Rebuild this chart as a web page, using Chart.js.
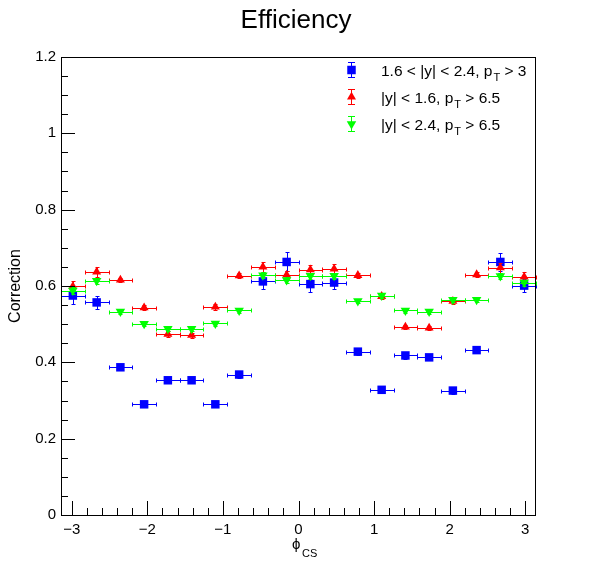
<!DOCTYPE html>
<html>
<head>
<meta charset="utf-8">
<title>Efficiency</title>
<script src="https://cdn.jsdelivr.net/npm/chart.js@4.4.1/dist/chart.umd.min.js"></script>
<style>
  body { margin: 0; background: #fff; }
  canvas { display: block; }
</style>
</head>
<body>
<canvas id="myChart" width="596" height="572"></canvas>
<script>
// centros de los bins en phi_CS (20 bins entre -pi y pi)
const phiBins = [-2.985, -2.670, -2.356, -2.042, -1.728, -1.414, -1.100, -0.785, -0.471, -0.157,
                  0.157, 0.471, 0.785, 1.100, 1.414, 1.728, 2.042, 2.356, 2.670, 2.985];
const binHalfWidth = 0.157;

// 1.6 < |y| < 2.4, pT > 3
const blueVals = [0.575, 0.557, 0.387, 0.290, 0.353, 0.353, 0.290, 0.368, 0.612, 0.663,
                  0.605, 0.609, 0.428, 0.328, 0.418, 0.413, 0.326, 0.432, 0.663, 0.601];
const blueErr = [0.022, 0.018, 0.008, 0.008, 0.008, 0.008, 0.008, 0.008, 0.019, 0.025,
                 0.022, 0.016, 0.008, 0.008, 0.008, 0.008, 0.008, 0.008, 0.023, 0.018];

// |y| < 1.6, pT > 6.5
const redVals = [0.599, 0.637, 0.616, 0.543, 0.474, 0.471, 0.545, 0.627, 0.650, 0.629,
                 0.643, 0.645, 0.628, 0.573, 0.493, 0.490, 0.560, 0.630, 0.648, 0.624];
const redErr = [0.013, 0.013, 0.006, 0.007, 0.007, 0.007, 0.007, 0.006, 0.013, 0.011,
                0.013, 0.013, 0.006, 0.006, 0.006, 0.006, 0.007, 0.006, 0.013, 0.013];

// |y| < 2.4, pT > 6.5
const greenVals = [0.588, 0.614, 0.533, 0.501, 0.488, 0.488, 0.502, 0.536, 0.628, 0.616,
                   0.627, 0.627, 0.561, 0.575, 0.536, 0.533, 0.564, 0.564, 0.626, 0.609];
const greenErr = [0.010, 0.008, 0.006, 0.006, 0.006, 0.006, 0.006, 0.006, 0.008, 0.008,
                  0.008, 0.008, 0.006, 0.006, 0.006, 0.006, 0.006, 0.006, 0.008, 0.008];

const xTicks = [-3, -2, -1, 0, 1, 2, 3];
const yTicks = [0, 0.2, 0.4, 0.6, 0.8, 1, 1.2];

// texto de la leyenda: [antes, subindice, despues]
const legendLabels = [
    ['1.6 < |y| < 2.4, p', 'T', ' > 3'],
    ['|y| < 1.6, p', 'T', ' > 6.5'],
    ['|y| < 2.4, p', 'T', ' > 6.5']
];

const FONT = '"Liberation Sans", Arial, Helvetica, "DejaVu Sans", sans-serif';

function toPoints(vals, errs) {
    return phiBins.map((x, i) => ({ x: x, y: vals[i], err: errs[i] }));
}

function px5(v) { return Math.round(v) + 0.5; }

// barras de error estilo ROOT (E1) con remates
function drawErrorBars(c, xs, ys, p, color) {
    const cap = 2;
    const cx = px5(xs.getPixelForValue(p.x));
    const py = px5(ys.getPixelForValue(p.y));
    const x1 = px5(xs.getPixelForValue(p.x - binHalfWidth));
    const x2 = px5(xs.getPixelForValue(p.x + binHalfWidth));
    const y1 = px5(ys.getPixelForValue(p.y - p.err));
    const y2 = px5(ys.getPixelForValue(p.y + p.err));
    c.strokeStyle = color;
    c.beginPath();
    c.moveTo(x1, py); c.lineTo(x2, py);
    c.moveTo(x1, py - cap); c.lineTo(x1, py + cap);
    c.moveTo(x2, py - cap); c.lineTo(x2, py + cap);
    c.moveTo(cx, y1); c.lineTo(cx, y2);
    c.moveTo(cx - cap, y1); c.lineTo(cx + cap, y1);
    c.moveTo(cx - cap, y2); c.lineTo(cx + cap, y2);
    c.stroke();
}

const rootStyle = {
    id: 'rootStyle',
    beforeDatasetDraw(chart, args) {
        const ds = chart.data.datasets[args.index];
        const c = chart.ctx;
        c.save();
        c.lineWidth = 1;
        ds.data.forEach(p => drawErrorBars(c, chart.scales.x, chart.scales.y, p, ds.borderColor));
        c.restore();
    },
    afterDraw(chart) {
        const c = chart.ctx;
        const a = chart.chartArea;
        const xs = chart.scales.x, ys = chart.scales.y;
        c.save();
        c.strokeStyle = '#000';
        c.lineWidth = 1;

        // marco
        c.strokeRect(Math.round(a.left) + 0.5, Math.round(a.top) + 0.5,
                     Math.round(a.right - a.left) - 1, Math.round(a.bottom - a.top));

        // ticks hacia dentro
        c.beginPath();
        for (let v = -3; v <= 3.001; v += 0.2) {
            const isMajor = Math.abs(v - Math.round(v)) < 1e-6;
            const x = px5(xs.getPixelForValue(v));
            c.moveTo(x, a.bottom);
            c.lineTo(x, a.bottom - (isMajor ? 14 : 7));
        }
        for (let v = 0; v <= 1.2001; v += 0.05) {
            const isMajor = Math.abs(v * 5 - Math.round(v * 5)) < 1e-6;
            const y = px5(ys.getPixelForValue(v));
            c.moveTo(a.left, y);
            c.lineTo(a.left + (isMajor ? 14 : 7), y);
        }
        c.stroke();

        c.fillStyle = '#000';
        // titulo
        c.font = '26px ' + FONT;
        c.textAlign = 'center';
        c.textBaseline = 'alphabetic';
        c.fillText('Efficiency', 296, 28);

        // titulo eje x: phi_CS
        c.font = '15px ' + FONT;
        c.textAlign = 'left';
        c.fillText('\u03D5', 292, 549);
        c.font = '11px ' + FONT;
        c.fillText('CS', 302, 557);

        // titulo eje y
        c.save();
        c.translate(20, (a.top + a.bottom) / 2);
        c.rotate(-Math.PI / 2);
        c.font = '16px ' + FONT;
        c.textAlign = 'center';
        c.fillText('Correction', 0, 0);
        c.restore();

        // leyenda
        const rows = [70, 97, 124];
        chart.data.datasets.forEach((ds, i) => {
            const y = rows[i];
            const x = 351;
            c.strokeStyle = ds.borderColor;
            c.beginPath();
            c.moveTo(x + 0.5, y - 8); c.lineTo(x + 0.5, y + 8);
            c.moveTo(x - 3, y - 8 + 0.5); c.lineTo(x + 4, y - 8 + 0.5);
            c.moveTo(x - 3, y + 8 - 0.5); c.lineTo(x + 4, y + 8 - 0.5);
            c.stroke();
            c.fillStyle = ds.backgroundColor;
            Chart.helpers.drawPoint(c, {
                pointStyle: ds.pointStyle,
                rotation: ds.rotation || 0,
                radius: ds.pointRadius,
                borderWidth: 0
            }, x + 0.5, y);

            const parts = legendLabels[i];
            let tx = 381;
            c.fillStyle = '#000';
            c.textAlign = 'left';
            c.font = '15.5px ' + FONT;
            c.fillText(parts[0], tx, y + 5.5);
            tx += c.measureText(parts[0]).width + 1;
            c.font = '11px ' + FONT;
            c.fillText(parts[1], tx, y + 11);
            tx += c.measureText(parts[1]).width;
            c.font = '15.5px ' + FONT;
            c.fillText(parts[2], tx, y + 5.5);
        });
        c.restore();
    }
};

var ctx = document.getElementById('myChart').getContext('2d');

var myChart = new Chart(ctx, {
    type: 'scatter',
    data: {
        datasets: [{
            label: '1.6 < |y| < 2.4, pT > 3',
            data: toPoints(blueVals, blueErr),
            backgroundColor: '#0000ff',
            borderColor: '#0000ff',
            pointStyle: 'rect',
            pointRadius: 6,
            borderWidth: 0,
            order: 3
        }, {
            label: '|y| < 1.6, pT > 6.5',
            data: toPoints(redVals, redErr),
            backgroundColor: '#ff0000',
            borderColor: '#ff0000',
            pointStyle: 'triangle',
            pointRadius: 5.2,
            borderWidth: 0,
            order: 2
        }, {
            label: '|y| < 2.4, pT > 6.5',
            data: toPoints(greenVals, greenErr),
            backgroundColor: '#00ff00',
            borderColor: '#00ff00',
            pointStyle: 'triangle',
            rotation: 180,
            pointRadius: 5.5,
            borderWidth: 0,
            order: 1
        }]
    },
    options: {
        responsive: false,
        animation: false,
        events: [],
        layout: { padding: { left: 0, top: 57, right: 60, bottom: 0 } },
        plugins: {
            legend: { display: false },
            title: { display: false },
            tooltip: { enabled: false }
        },
        scales: {
            x: {
                type: 'linear',
                min: -Math.PI,
                max: Math.PI,
                grid: { display: false, drawTicks: false },
                border: { display: false },
                afterBuildTicks: s => { s.ticks = xTicks.map(v => ({ value: v })); },
                afterFit: s => { s.height = 57; },
                ticks: {
                    color: '#000',
                    font: { family: FONT, size: 15 },
                    padding: 6,
                    maxRotation: 0,
                    autoSkip: false,
                    callback: v => v < 0 ? '\u2212' + Math.abs(v) : '' + v
                }
            },
            y: {
                type: 'linear',
                min: 0,
                max: 1.2,
                grid: { display: false, drawTicks: false },
                border: { display: false },
                afterBuildTicks: s => { s.ticks = yTicks.map(v => ({ value: v })); },
                afterFit: s => { s.width = 61; },
                ticks: {
                    color: '#000',
                    font: { family: FONT, size: 15 },
                    padding: 5,
                    autoSkip: false,
                    callback: v => '' + (+v.toFixed(1))
                }
            }
        }
    },
    plugins: [rootStyle]
});
</script>
</body>
</html>
